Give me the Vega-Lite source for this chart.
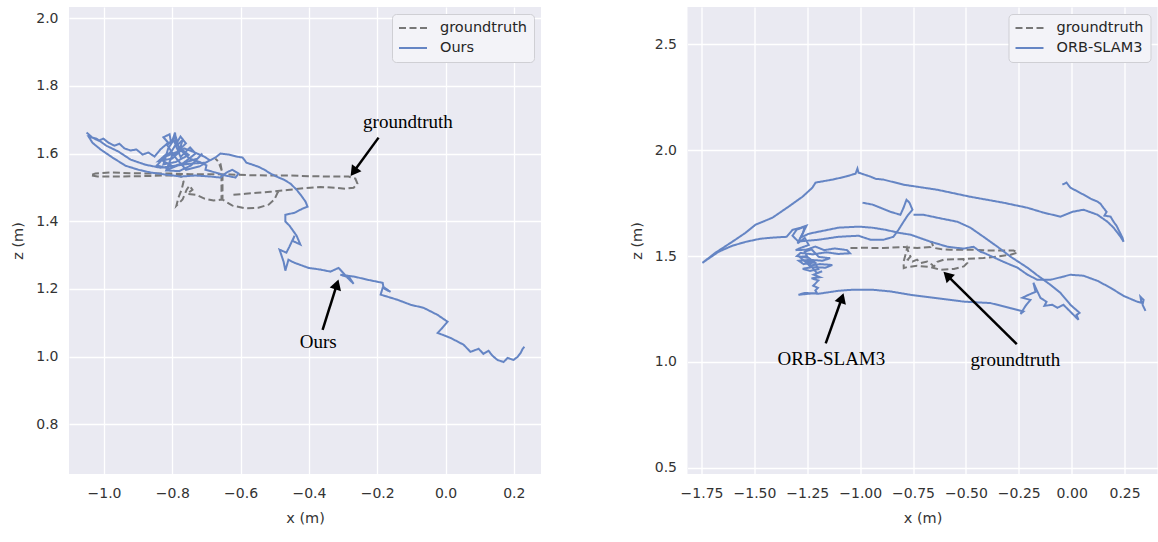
{
 "$schema": "https://vega.github.io/schema/vega-lite/v6.json",
 "background": "white",
 "padding": {"left": 10, "top": 7, "right": 0, "bottom": 0},
 "bounds": "flush",
 "spacing": 146.5,
 "datasets": {
  "left_traj": [
   {"s":"groundtruth","i":1,"x":-0.621,"y":1.478},{"s":"groundtruth","i":2,"x":-0.586,"y":1.481},{"s":"groundtruth","i":3,"x":-0.551,"y":1.484},{"s":"groundtruth","i":4,"x":-0.513,"y":1.487},{"s":"groundtruth","i":5,"x":-0.463,"y":1.492},{"s":"groundtruth","i":6,"x":-0.41,"y":1.498},{"s":"groundtruth","i":7,"x":-0.366,"y":1.501},{"s":"groundtruth","i":8,"x":-0.322,"y":1.499},{"s":"groundtruth","i":9,"x":-0.293,"y":1.496},{"s":"groundtruth","i":10,"x":-0.269,"y":1.499},{"s":"groundtruth","i":11,"x":-0.258,"y":1.511},{"s":"groundtruth","i":12,"x":-0.264,"y":1.526},{"s":"groundtruth","i":13,"x":-0.284,"y":1.532},{"s":"groundtruth","i":14,"x":-0.337,"y":1.532},{"s":"groundtruth","i":15,"x":-0.395,"y":1.533},{"s":"groundtruth","i":16,"x":-0.454,"y":1.535},{"s":"groundtruth","i":17,"x":-0.513,"y":1.535},{"s":"groundtruth","i":18,"x":-0.571,"y":1.536},{"s":"groundtruth","i":19,"x":-0.63,"y":1.538},{"s":"groundtruth","i":20,"x":-0.688,"y":1.539},{"s":"groundtruth","i":21,"x":-0.747,"y":1.539},{"s":"groundtruth","i":22,"x":-0.805,"y":1.541},{"s":"groundtruth","i":23,"x":-0.864,"y":1.541},{"s":"groundtruth","i":24,"x":-0.922,"y":1.542},{"s":"groundtruth","i":25,"x":-0.981,"y":1.544},{"s":"groundtruth","i":26,"x":-1.025,"y":1.541},{"s":"groundtruth","i":27,"x":-1.04,"y":1.536},{"s":"groundtruth","i":28,"x":-1.019,"y":1.532},{"s":"groundtruth","i":29,"x":-0.966,"y":1.532},{"s":"groundtruth","i":30,"x":-0.893,"y":1.533},{"s":"groundtruth","i":31,"x":-0.82,"y":1.535},{"s":"groundtruth","i":32,"x":-0.776,"y":1.535},{"s":"groundtruth","i":33,"x":-0.767,"y":1.517},{"s":"groundtruth","i":34,"x":-0.773,"y":1.493},{"s":"groundtruth","i":35,"x":-0.782,"y":1.47},{"s":"groundtruth","i":36,"x":-0.788,"y":1.446},{"s":"groundtruth","i":37,"x":-0.77,"y":1.464},{"s":"groundtruth","i":38,"x":-0.758,"y":1.493},{"s":"groundtruth","i":39,"x":-0.75,"y":1.505},{"s":"groundtruth","i":40,"x":-0.741,"y":1.493},{"s":"groundtruth","i":41,"x":-0.756,"y":1.481},{"s":"groundtruth","i":42,"x":-0.729,"y":1.478},{"s":"groundtruth","i":43,"x":-0.706,"y":1.467},{"s":"groundtruth","i":44,"x":-0.679,"y":1.461},{"s":"groundtruth","i":45,"x":-0.656,"y":1.464},{"s":"groundtruth","i":46,"x":-0.656,"y":1.508},{"s":"groundtruth","i":47,"x":-0.656,"y":1.552},{"s":"groundtruth","i":48,"x":-0.665,"y":1.576},{"s":"groundtruth","i":49,"x":-0.674,"y":1.585},{"s":"groundtruth","i":50,"x":-0.659,"y":1.57},{"s":"groundtruth","i":51,"x":-0.653,"y":1.538},{"s":"groundtruth","i":52,"x":-0.653,"y":1.493},{"s":"groundtruth","i":53,"x":-0.653,"y":1.464},{"s":"groundtruth","i":54,"x":-0.624,"y":1.446},{"s":"groundtruth","i":55,"x":-0.586,"y":1.438},{"s":"groundtruth","i":56,"x":-0.548,"y":1.44},{"s":"groundtruth","i":57,"x":-0.518,"y":1.449},{"s":"groundtruth","i":58,"x":-0.501,"y":1.464},{"s":"groundtruth","i":59,"x":-0.492,"y":1.484},{"s":"groundtruth","i":60,"x":-0.483,"y":1.493},
   {"s":"Ours","i":1,"x":-1.051,"y":1.662},{"s":"Ours","i":2,"x":-1.034,"y":1.647},{"s":"Ours","i":3,"x":-1.016,"y":1.638},{"s":"Ours","i":4,"x":-1.002,"y":1.644},{"s":"Ours","i":5,"x":-0.987,"y":1.632},{"s":"Ours","i":6,"x":-0.969,"y":1.623},{"s":"Ours","i":7,"x":-0.955,"y":1.629},{"s":"Ours","i":8,"x":-0.94,"y":1.615},{"s":"Ours","i":9,"x":-0.922,"y":1.609},{"s":"Ours","i":10,"x":-0.905,"y":1.612},{"s":"Ours","i":11,"x":-0.887,"y":1.597},{"s":"Ours","i":12,"x":-0.87,"y":1.603},{"s":"Ours","i":13,"x":-0.852,"y":1.591},
   {"s":"Ours","i":14,"x":-0.835,"y":1.612},{"s":"Ours","i":15,"x":-0.812,"y":1.632},{"s":"Ours","i":16,"x":-0.826,"y":1.648},{"s":"Ours","i":17,"x":-0.808,"y":1.657},{"s":"Ours","i":18,"x":-0.803,"y":1.628},{"s":"Ours","i":19,"x":-0.792,"y":1.662},{"s":"Ours","i":20,"x":-0.788,"y":1.622},{"s":"Ours","i":21,"x":-0.77,"y":1.64},{"s":"Ours","i":22,"x":-0.782,"y":1.6},{"s":"Ours","i":23,"x":-0.818,"y":1.598},{"s":"Ours","i":24,"x":-0.84,"y":1.578},{"s":"Ours","i":25,"x":-0.8,"y":1.585},{"s":"Ours","i":26,"x":-0.772,"y":1.612},{"s":"Ours","i":27,"x":-0.752,"y":1.596},{"s":"Ours","i":28,"x":-0.79,"y":1.575},{"s":"Ours","i":29,"x":-0.826,"y":1.568},{"s":"Ours","i":30,"x":-0.812,"y":1.615},{"s":"Ours","i":31,"x":-0.796,"y":1.64},{"s":"Ours","i":32,"x":-0.776,"y":1.59},{"s":"Ours","i":33,"x":-0.748,"y":1.618},{"s":"Ours","i":34,"x":-0.732,"y":1.6},{"s":"Ours","i":35,"x":-0.77,"y":1.57},{"s":"Ours","i":36,"x":-0.808,"y":1.555},{"s":"Ours","i":37,"x":-0.845,"y":1.565},{"s":"Ours","i":38,"x":-0.822,"y":1.59},{"s":"Ours","i":39,"x":-0.786,"y":1.605},{"s":"Ours","i":40,"x":-0.76,"y":1.63},{"s":"Ours","i":41,"x":-0.776,"y":1.65},{"s":"Ours","i":42,"x":-0.8,"y":1.61},{"s":"Ours","i":43,"x":-0.83,"y":1.58},{"s":"Ours","i":44,"x":-0.798,"y":1.562},{"s":"Ours","i":45,"x":-0.758,"y":1.575},{"s":"Ours","i":46,"x":-0.726,"y":1.585},{"s":"Ours","i":47,"x":-0.712,"y":1.6},{"s":"Ours","i":48,"x":-0.745,"y":1.565},{"s":"Ours","i":49,"x":-0.78,"y":1.548},{"s":"Ours","i":50,"x":-0.818,"y":1.55},{"s":"Ours","i":51,"x":-0.8,"y":1.595},{"s":"Ours","i":52,"x":-0.765,"y":1.615},{"s":"Ours","i":53,"x":-0.738,"y":1.605},{"s":"Ours","i":54,"x":-0.705,"y":1.59},{"s":"Ours","i":55,"x":-0.69,"y":1.58},{"s":"Ours","i":56,"x":-0.72,"y":1.562},{"s":"Ours","i":57,"x":-0.76,"y":1.552},{"s":"Ours","i":58,"x":-0.792,"y":1.59},{"s":"Ours","i":59,"x":-0.815,"y":1.625},{"s":"Ours","i":60,"x":-0.79,"y":1.65},{"s":"Ours","i":61,"x":-0.78,"y":1.615},{"s":"Ours","i":62,"x":-0.75,"y":1.585},{"s":"Ours","i":63,"x":-0.72,"y":1.575},{"s":"Ours","i":64,"x":-0.7,"y":1.565},{"s":"Ours","i":65,"x":-0.703,"y":1.552},
   {"s":"Ours","i":80,"x":-0.674,"y":1.544},{"s":"Ours","i":81,"x":-0.644,"y":1.535},{"s":"Ours","i":82,"x":-0.615,"y":1.529},{"s":"Ours","i":83,"x":-0.606,"y":1.541},{"s":"Ours","i":84,"x":-0.624,"y":1.552},{"s":"Ours","i":85,"x":-0.641,"y":1.544},{"s":"Ours","i":86,"x":-0.659,"y":1.529},{"s":"Ours","i":87,"x":-0.688,"y":1.532},{"s":"Ours","i":88,"x":-0.732,"y":1.535},{"s":"Ours","i":89,"x":-0.776,"y":1.532},{"s":"Ours","i":90,"x":-0.82,"y":1.538},{"s":"Ours","i":91,"x":-0.864,"y":1.544},{"s":"Ours","i":92,"x":-0.899,"y":1.552},{"s":"Ours","i":93,"x":-0.937,"y":1.564},{"s":"Ours","i":94,"x":-0.975,"y":1.588},{"s":"Ours","i":95,"x":-1.01,"y":1.612},{"s":"Ours","i":96,"x":-1.034,"y":1.632},{"s":"Ours","i":97,"x":-1.045,"y":1.65},{"s":"Ours","i":98,"x":-1.022,"y":1.644},{"s":"Ours","i":99,"x":-0.993,"y":1.623},{"s":"Ours","i":100,"x":-0.958,"y":1.606},{"s":"Ours","i":101,"x":-0.922,"y":1.582},{"s":"Ours","i":102,"x":-0.879,"y":1.567},{"s":"Ours","i":103,"x":-0.835,"y":1.558},{"s":"Ours","i":104,"x":-0.791,"y":1.564},{"s":"Ours","i":105,"x":-0.747,"y":1.57},{"s":"Ours","i":106,"x":-0.703,"y":1.573},{"s":"Ours","i":107,"x":-0.674,"y":1.588},{"s":"Ours","i":108,"x":-0.659,"y":1.6},{"s":"Ours","i":109,"x":-0.635,"y":1.597},{"s":"Ours","i":110,"x":-0.612,"y":1.591},{"s":"Ours","i":111,"x":-0.594,"y":1.588},{"s":"Ours","i":112,"x":-0.583,"y":1.573},{"s":"Ours","i":113,"x":-0.565,"y":1.567},{"s":"Ours","i":114,"x":-0.548,"y":1.561},{"s":"Ours","i":115,"x":-0.53,"y":1.552},{"s":"Ours","i":116,"x":-0.513,"y":1.541},{"s":"Ours","i":117,"x":-0.495,"y":1.532},{"s":"Ours","i":118,"x":-0.474,"y":1.523},{"s":"Ours","i":119,"x":-0.454,"y":1.511},{"s":"Ours","i":120,"x":-0.436,"y":1.493},{"s":"Ours","i":121,"x":-0.422,"y":1.475},{"s":"Ours","i":122,"x":-0.41,"y":1.458},{"s":"Ours","i":123,"x":-0.404,"y":1.443},{"s":"Ours","i":124,"x":-0.419,"y":1.437},{"s":"Ours","i":125,"x":-0.442,"y":1.425},{"s":"Ours","i":126,"x":-0.469,"y":1.419},{"s":"Ours","i":127,"x":-0.469,"y":1.399},{"s":"Ours","i":128,"x":-0.457,"y":1.387},{"s":"Ours","i":129,"x":-0.436,"y":1.357},{"s":"Ours","i":130,"x":-0.425,"y":1.331},{"s":"Ours","i":131,"x":-0.448,"y":1.342},{"s":"Ours","i":132,"x":-0.442,"y":1.357},{"s":"Ours","i":133,"x":-0.457,"y":1.325},{"s":"Ours","i":134,"x":-0.466,"y":1.307},{"s":"Ours","i":135,"x":-0.486,"y":1.316},{"s":"Ours","i":136,"x":-0.474,"y":1.28},{"s":"Ours","i":137,"x":-0.469,"y":1.254},{"s":"Ours","i":138,"x":-0.46,"y":1.286},{"s":"Ours","i":139,"x":-0.442,"y":1.277},{"s":"Ours","i":140,"x":-0.401,"y":1.262},{"s":"Ours","i":141,"x":-0.366,"y":1.257},{"s":"Ours","i":142,"x":-0.337,"y":1.251},{"s":"Ours","i":143,"x":-0.313,"y":1.262},{"s":"Ours","i":144,"x":-0.287,"y":1.233},{"s":"Ours","i":145,"x":-0.269,"y":1.215},{"s":"Ours","i":146,"x":-0.281,"y":1.233},{"s":"Ours","i":147,"x":-0.308,"y":1.242},{"s":"Ours","i":148,"x":-0.266,"y":1.236},{"s":"Ours","i":149,"x":-0.228,"y":1.227},{"s":"Ours","i":150,"x":-0.199,"y":1.221},{"s":"Ours","i":151,"x":-0.184,"y":1.218},{"s":"Ours","i":152,"x":-0.182,"y":1.206},{"s":"Ours","i":153,"x":-0.161,"y":1.191},{"s":"Ours","i":154,"x":-0.184,"y":1.203},{"s":"Ours","i":155,"x":-0.19,"y":1.183},{"s":"Ours","i":156,"x":-0.141,"y":1.168},{"s":"Ours","i":157,"x":-0.102,"y":1.153},{"s":"Ours","i":158,"x":-0.064,"y":1.144},{"s":"Ours","i":159,"x":-0.023,"y":1.123},{"s":"Ours","i":160,"x":0.006,"y":1.103},{"s":"Ours","i":161,"x":-0.009,"y":1.085},{"s":"Ours","i":162,"x":-0.023,"y":1.07},{"s":"Ours","i":163,"x":0.015,"y":1.055},{"s":"Ours","i":164,"x":0.053,"y":1.035},{"s":"Ours","i":165,"x":0.073,"y":1.014},{"s":"Ours","i":166,"x":0.097,"y":1.023},{"s":"Ours","i":167,"x":0.111,"y":1.008},{"s":"Ours","i":168,"x":0.126,"y":1.017},{"s":"Ours","i":169,"x":0.138,"y":1.002},{"s":"Ours","i":170,"x":0.152,"y":0.99},{"s":"Ours","i":171,"x":0.17,"y":0.984},{"s":"Ours","i":172,"x":0.182,"y":0.996},{"s":"Ours","i":173,"x":0.199,"y":0.99},{"s":"Ours","i":174,"x":0.211,"y":0.999},{"s":"Ours","i":175,"x":0.22,"y":1.011},{"s":"Ours","i":176,"x":0.226,"y":1.023},{"s":"Ours","i":177,"x":0.231,"y":1.029}
  ],
  "left_text": [
   {"label":"groundtruth","x":-0.110,"y":1.694},
   {"label":"Ours","x":-0.373,"y":1.044}
  ],
  "left_arrow": [
   {"x":-0.196,"y":1.647,"x2":-0.269,"y2":1.546,"angle":216.4},
   {"x":-0.360,"y":1.079,"x2":-0.318,"y2":1.213,"angle":17.7}
  ],
  "right_traj": [
   {"s":"groundtruth","g":"G","i":1,"x":-1.046,"y":1.538},{"s":"groundtruth","g":"G","i":2,"x":-0.975,"y":1.539},{"s":"groundtruth","g":"G","i":3,"x":-0.89,"y":1.538},{"s":"groundtruth","g":"G","i":4,"x":-0.795,"y":1.543},{"s":"groundtruth","g":"G","i":5,"x":-0.731,"y":1.538},{"s":"groundtruth","g":"G","i":6,"x":-0.668,"y":1.543},{"s":"groundtruth","g":"G","i":7,"x":-0.663,"y":1.57},{"s":"groundtruth","g":"G","i":8,"x":-0.653,"y":1.539},{"s":"groundtruth","g":"G","i":9,"x":-0.62,"y":1.533},{"s":"groundtruth","g":"G","i":10,"x":-0.573,"y":1.53},{"s":"groundtruth","g":"G","i":11,"x":-0.479,"y":1.53},{"s":"groundtruth","g":"G","i":12,"x":-0.384,"y":1.526},{"s":"groundtruth","g":"G","i":13,"x":-0.275,"y":1.526},{"s":"groundtruth","g":"G","i":14,"x":-0.256,"y":1.517},{"s":"groundtruth","g":"G","i":15,"x":-0.289,"y":1.506},{"s":"groundtruth","g":"G","i":16,"x":-0.351,"y":1.498},{"s":"groundtruth","g":"G","i":17,"x":-0.417,"y":1.491},{"s":"groundtruth","g":"G","i":18,"x":-0.512,"y":1.486},{"s":"groundtruth","g":"G","i":19,"x":-0.606,"y":1.483},{"s":"groundtruth","g":"G","i":20,"x":-0.635,"y":1.473},{"s":"groundtruth","g":"G","i":21,"x":-0.653,"y":1.448},{"s":"groundtruth","g":"G","i":22,"x":-0.66,"y":1.459},{"s":"groundtruth","g":"G","i":23,"x":-0.683,"y":1.474},{"s":"groundtruth","g":"G","i":24,"x":-0.715,"y":1.467},{"s":"groundtruth","g":"G","i":25,"x":-0.731,"y":1.483},{"s":"groundtruth","g":"G","i":26,"x":-0.754,"y":1.474},{"s":"groundtruth","g":"G","i":27,"x":-0.775,"y":1.483},{"s":"groundtruth","g":"G","i":28,"x":-0.762,"y":1.498},{"s":"groundtruth","g":"G","i":29,"x":-0.77,"y":1.514},{"s":"groundtruth","g":"G","i":30,"x":-0.778,"y":1.538},{"s":"groundtruth","g":"G","i":31,"x":-0.786,"y":1.506},{"s":"groundtruth","g":"G","i":32,"x":-0.795,"y":1.473},{"s":"groundtruth","g":"G","i":33,"x":-0.794,"y":1.443},{"s":"groundtruth","g":"G","i":34,"x":-0.778,"y":1.448},{"s":"groundtruth","g":"G","i":35,"x":-0.731,"y":1.454},{"s":"groundtruth","g":"G","i":36,"x":-0.668,"y":1.448},{"s":"groundtruth","g":"G","i":37,"x":-0.62,"y":1.435},{"s":"groundtruth","g":"G","i":38,"x":-0.557,"y":1.439},{"s":"groundtruth","g":"G","i":39,"x":-0.51,"y":1.451},{"s":"groundtruth","g":"G","i":40,"x":-0.494,"y":1.467},{"s":"groundtruth","g":"G","i":41,"x":-0.512,"y":1.483},
   {"s":"ORB-SLAM3","g":"A","i":1,"x":-0.044,"y":1.837},{"s":"ORB-SLAM3","g":"A","i":2,"x":-0.025,"y":1.847},{"s":"ORB-SLAM3","g":"A","i":3,"x":-0.006,"y":1.823},{"s":"ORB-SLAM3","g":"A","i":4,"x":0.056,"y":1.79},{"s":"ORB-SLAM3","g":"A","i":5,"x":0.089,"y":1.771},{"s":"ORB-SLAM3","g":"A","i":6,"x":0.122,"y":1.757},{"s":"ORB-SLAM3","g":"A","i":7,"x":0.136,"y":1.747},{"s":"ORB-SLAM3","g":"A","i":8,"x":0.15,"y":1.728},{"s":"ORB-SLAM3","g":"A","i":9,"x":0.165,"y":1.709},{"s":"ORB-SLAM3","g":"A","i":10,"x":0.155,"y":1.691},{"s":"ORB-SLAM3","g":"A","i":11,"x":0.184,"y":1.686},{"s":"ORB-SLAM3","g":"A","i":12,"x":0.198,"y":1.662},{"s":"ORB-SLAM3","g":"A","i":13,"x":0.212,"y":1.643},{"s":"ORB-SLAM3","g":"A","i":14,"x":0.226,"y":1.615},{"s":"ORB-SLAM3","g":"A","i":15,"x":0.24,"y":1.587},{"s":"ORB-SLAM3","g":"A","i":16,"x":0.245,"y":1.568},{"s":"ORB-SLAM3","g":"A","i":17,"x":0.231,"y":1.591},{"s":"ORB-SLAM3","g":"A","i":18,"x":0.198,"y":1.634},{"s":"ORB-SLAM3","g":"A","i":19,"x":0.169,"y":1.662},{"s":"ORB-SLAM3","g":"A","i":20,"x":0.122,"y":1.695},{"s":"ORB-SLAM3","g":"A","i":21,"x":0.056,"y":1.719},{"s":"ORB-SLAM3","g":"A","i":22,"x":0.004,"y":1.709},{"s":"ORB-SLAM3","g":"A","i":23,"x":-0.053,"y":1.686},{"s":"ORB-SLAM3","g":"A","i":24,"x":-0.133,"y":1.705},{"s":"ORB-SLAM3","g":"A","i":25,"x":-0.209,"y":1.728},{"s":"ORB-SLAM3","g":"A","i":26,"x":-0.323,"y":1.752},{"s":"ORB-SLAM3","g":"A","i":27,"x":-0.479,"y":1.78},{"s":"ORB-SLAM3","g":"A","i":28,"x":-0.635,"y":1.813},{"s":"ORB-SLAM3","g":"A","i":29,"x":-0.795,"y":1.837},{"s":"ORB-SLAM3","g":"A","i":30,"x":-0.89,"y":1.861},{"s":"ORB-SLAM3","g":"A","i":31,"x":-0.928,"y":1.865},{"s":"ORB-SLAM3","g":"A","i":32,"x":-0.951,"y":1.875},{"s":"ORB-SLAM3","g":"A","i":33,"x":-1.008,"y":1.894},{"s":"ORB-SLAM3","g":"A","i":34,"x":-1.013,"y":1.913},{"s":"ORB-SLAM3","g":"A","i":35,"x":-1.022,"y":1.889},{"s":"ORB-SLAM3","g":"A","i":36,"x":-1.07,"y":1.875},{"s":"ORB-SLAM3","g":"A","i":37,"x":-1.131,"y":1.861},{"s":"ORB-SLAM3","g":"A","i":38,"x":-1.211,"y":1.847},{"s":"ORB-SLAM3","g":"A","i":39,"x":-1.226,"y":1.823},{"s":"ORB-SLAM3","g":"A","i":40,"x":-1.273,"y":1.78},{"s":"ORB-SLAM3","g":"A","i":41,"x":-1.339,"y":1.733},{"s":"ORB-SLAM3","g":"A","i":42,"x":-1.415,"y":1.681},{"s":"ORB-SLAM3","g":"A","i":43,"x":-1.495,"y":1.648},{"s":"ORB-SLAM3","g":"A","i":44,"x":-1.542,"y":1.61},{"s":"ORB-SLAM3","g":"A","i":45,"x":-1.604,"y":1.568},{"s":"ORB-SLAM3","g":"A","i":46,"x":-1.684,"y":1.516},{"s":"ORB-SLAM3","g":"A","i":47,"x":-1.746,"y":1.468},{"s":"ORB-SLAM3","g":"A","i":48,"x":-1.67,"y":1.52},{"s":"ORB-SLAM3","g":"A","i":49,"x":-1.604,"y":1.549},{"s":"ORB-SLAM3","g":"A","i":50,"x":-1.538,"y":1.568},{"s":"ORB-SLAM3","g":"A","i":51,"x":-1.471,"y":1.582},{"s":"ORB-SLAM3","g":"A","i":52,"x":-1.415,"y":1.587},{"s":"ORB-SLAM3","g":"A","i":53,"x":-1.348,"y":1.591},{"s":"ORB-SLAM3","g":"A","i":54,"x":-1.32,"y":1.624},{"s":"ORB-SLAM3","g":"A","i":55,"x":-1.282,"y":1.634},{"s":"ORB-SLAM3","g":"A","i":56,"x":-1.254,"y":1.643},{"s":"ORB-SLAM3","g":"A","i":57,"x":-1.282,"y":1.587},{"s":"ORB-SLAM3","g":"A","i":58,"x":-1.244,"y":1.605},{"s":"ORB-SLAM3","g":"A","i":59,"x":-1.197,"y":1.615},{"s":"ORB-SLAM3","g":"A","i":60,"x":-1.103,"y":1.634},{"s":"ORB-SLAM3","g":"A","i":61,"x":-1.008,"y":1.639},{"s":"ORB-SLAM3","g":"A","i":62,"x":-0.942,"y":1.634},{"s":"ORB-SLAM3","g":"A","i":63,"x":-0.88,"y":1.624},{"s":"ORB-SLAM3","g":"A","i":64,"x":-0.819,"y":1.61},{"s":"ORB-SLAM3","g":"A","i":65,"x":-0.762,"y":1.601},{"s":"ORB-SLAM3","g":"A","i":66,"x":-0.668,"y":1.568},{"s":"ORB-SLAM3","g":"A","i":67,"x":-0.587,"y":1.544},{"s":"ORB-SLAM3","g":"A","i":68,"x":-0.512,"y":1.535},{"s":"ORB-SLAM3","g":"A","i":69,"x":-0.464,"y":1.544},{"s":"ORB-SLAM3","g":"A","i":70,"x":-0.431,"y":1.52},{"s":"ORB-SLAM3","g":"A","i":71,"x":-0.417,"y":1.516},{"s":"ORB-SLAM3","g":"A","i":72,"x":-0.323,"y":1.473},{"s":"ORB-SLAM3","g":"A","i":73,"x":-0.256,"y":1.445},{"s":"ORB-SLAM3","g":"A","i":74,"x":-0.209,"y":1.412},{"s":"ORB-SLAM3","g":"A","i":75,"x":-0.162,"y":1.388},{"s":"ORB-SLAM3","g":"A","i":76,"x":-0.1,"y":1.388},{"s":"ORB-SLAM3","g":"A","i":77,"x":-0.044,"y":1.402},{"s":"ORB-SLAM3","g":"A","i":78,"x":-0.006,"y":1.412},{"s":"ORB-SLAM3","g":"A","i":79,"x":0.056,"y":1.407},{"s":"ORB-SLAM3","g":"A","i":80,"x":0.122,"y":1.383},{"s":"ORB-SLAM3","g":"A","i":81,"x":0.184,"y":1.35},{"s":"ORB-SLAM3","g":"A","i":82,"x":0.245,"y":1.312},{"s":"ORB-SLAM3","g":"A","i":83,"x":0.311,"y":1.284},{"s":"ORB-SLAM3","g":"A","i":84,"x":0.33,"y":1.279},{"s":"ORB-SLAM3","g":"A","i":85,"x":0.325,"y":1.308},{"s":"ORB-SLAM3","g":"A","i":86,"x":0.34,"y":1.293},{"s":"ORB-SLAM3","g":"A","i":87,"x":0.335,"y":1.27},{"s":"ORB-SLAM3","g":"A","i":88,"x":0.349,"y":1.241},
   {"s":"ORB-SLAM3","g":"B","i":1,"x":-0.989,"y":1.752},{"s":"ORB-SLAM3","g":"B","i":2,"x":-0.942,"y":1.743},{"s":"ORB-SLAM3","g":"B","i":3,"x":-0.904,"y":1.728},{"s":"ORB-SLAM3","g":"B","i":4,"x":-0.857,"y":1.709},{"s":"ORB-SLAM3","g":"B","i":5,"x":-0.81,"y":1.695},{"s":"ORB-SLAM3","g":"B","i":6,"x":-0.795,"y":1.728},{"s":"ORB-SLAM3","g":"B","i":7,"x":-0.781,"y":1.766},{"s":"ORB-SLAM3","g":"B","i":8,"x":-0.767,"y":1.752},{"s":"ORB-SLAM3","g":"B","i":9,"x":-0.753,"y":1.719},{"s":"ORB-SLAM3","g":"B","i":10,"x":-0.776,"y":1.691},{"s":"ORB-SLAM3","g":"B","i":11,"x":-0.795,"y":1.662},{"s":"ORB-SLAM3","g":"B","i":12,"x":-0.819,"y":1.624},{"s":"ORB-SLAM3","g":"B","i":13,"x":-0.843,"y":1.591},{"s":"ORB-SLAM3","g":"B","i":14,"x":-0.89,"y":1.577},{"s":"ORB-SLAM3","g":"B","i":15,"x":-0.951,"y":1.577},{"s":"ORB-SLAM3","g":"B","i":16,"x":-1.008,"y":1.596},{"s":"ORB-SLAM3","g":"B","i":17,"x":-1.103,"y":1.591},{"s":"ORB-SLAM3","g":"B","i":18,"x":-1.197,"y":1.577},{"s":"ORB-SLAM3","g":"B","i":19,"x":-1.259,"y":1.572},
   {"s":"ORB-SLAM3","g":"B","i":20,"x":-1.292,"y":1.568},{"s":"ORB-SLAM3","g":"B","i":21,"x":-1.32,"y":1.596},{"s":"ORB-SLAM3","g":"B","i":22,"x":-1.301,"y":1.624},{"s":"ORB-SLAM3","g":"B","i":23,"x":-1.263,"y":1.639},{"s":"ORB-SLAM3","g":"B","i":24,"x":-1.27,"y":1.61},{"s":"ORB-SLAM3","g":"B","i":25,"x":-1.296,"y":1.56},{"s":"ORB-SLAM3","g":"B","i":26,"x":-1.262,"y":1.585},{"s":"ORB-SLAM3","g":"B","i":27,"x":-1.243,"y":1.552},{"s":"ORB-SLAM3","g":"B","i":28,"x":-1.278,"y":1.54},{"s":"ORB-SLAM3","g":"B","i":29,"x":-1.305,"y":1.528},{"s":"ORB-SLAM3","g":"B","i":30,"x":-1.255,"y":1.53},{"s":"ORB-SLAM3","g":"B","i":31,"x":-1.212,"y":1.545},{"s":"ORB-SLAM3","g":"B","i":32,"x":-1.17,"y":1.528},{"s":"ORB-SLAM3","g":"B","i":33,"x":-1.12,"y":1.536},{"s":"ORB-SLAM3","g":"B","i":34,"x":-1.062,"y":1.528},{"s":"ORB-SLAM3","g":"B","i":35,"x":-1.048,"y":1.513},{"s":"ORB-SLAM3","g":"B","i":36,"x":-1.105,"y":1.51},{"s":"ORB-SLAM3","g":"B","i":37,"x":-1.16,"y":1.518},{"s":"ORB-SLAM3","g":"B","i":38,"x":-1.224,"y":1.508},{"s":"ORB-SLAM3","g":"B","i":39,"x":-1.282,"y":1.515},{"s":"ORB-SLAM3","g":"B","i":40,"x":-1.299,"y":1.5},{"s":"ORB-SLAM3","g":"B","i":41,"x":-1.248,"y":1.492},{"s":"ORB-SLAM3","g":"B","i":42,"x":-1.262,"y":1.52},{"s":"ORB-SLAM3","g":"B","i":43,"x":-1.23,"y":1.532},{"s":"ORB-SLAM3","g":"B","i":44,"x":-1.196,"y":1.496},{"s":"ORB-SLAM3","g":"B","i":45,"x":-1.142,"y":1.49},{"s":"ORB-SLAM3","g":"B","i":46,"x":-1.178,"y":1.478},{"s":"ORB-SLAM3","g":"B","i":47,"x":-1.238,"y":1.482},{"s":"ORB-SLAM3","g":"B","i":48,"x":-1.29,"y":1.478},{"s":"ORB-SLAM3","g":"B","i":49,"x":-1.268,"y":1.462},{"s":"ORB-SLAM3","g":"B","i":50,"x":-1.215,"y":1.47},{"s":"ORB-SLAM3","g":"B","i":51,"x":-1.255,"y":1.5},{"s":"ORB-SLAM3","g":"B","i":52,"x":-1.285,"y":1.495},{"s":"ORB-SLAM3","g":"B","i":53,"x":-1.24,"y":1.455},{"s":"ORB-SLAM3","g":"B","i":54,"x":-1.19,"y":1.462},{"s":"ORB-SLAM3","g":"B","i":55,"x":-1.132,"y":1.458},{"s":"ORB-SLAM3","g":"B","i":56,"x":-1.165,"y":1.445},{"s":"ORB-SLAM3","g":"B","i":57,"x":-1.225,"y":1.448},{"s":"ORB-SLAM3","g":"B","i":58,"x":-1.272,"y":1.44},{"s":"ORB-SLAM3","g":"B","i":59,"x":-1.238,"y":1.43},{"s":"ORB-SLAM3","g":"B","i":60,"x":-1.198,"y":1.438},{"s":"ORB-SLAM3","g":"B","i":61,"x":-1.215,"y":1.47},{"s":"ORB-SLAM3","g":"B","i":62,"x":-1.25,"y":1.475},{"s":"ORB-SLAM3","g":"B","i":63,"x":-1.205,"y":1.42},{"s":"ORB-SLAM3","g":"B","i":64,"x":-1.18,"y":1.428},{"s":"ORB-SLAM3","g":"B","i":65,"x":-1.22,"y":1.412},{"s":"ORB-SLAM3","g":"B","i":66,"x":-1.19,"y":1.4},{"s":"ORB-SLAM3","g":"B","i":67,"x":-1.23,"y":1.395},{"s":"ORB-SLAM3","g":"B","i":68,"x":-1.198,"y":1.385},{"s":"ORB-SLAM3","g":"B","i":69,"x":-1.21,"y":1.372},{"s":"ORB-SLAM3","g":"B","i":70,"x":-1.222,"y":1.36},{"s":"ORB-SLAM3","g":"B","i":71,"x":-1.2,"y":1.35},{"s":"ORB-SLAM3","g":"B","i":72,"x":-1.212,"y":1.338},{"s":"ORB-SLAM3","g":"B","i":73,"x":-1.205,"y":1.326},
   {"s":"ORB-SLAM3","g":"B","i":75,"x":-1.244,"y":1.322},{"s":"ORB-SLAM3","g":"B","i":76,"x":-1.292,"y":1.317},{"s":"ORB-SLAM3","g":"B","i":77,"x":-1.263,"y":1.326},{"s":"ORB-SLAM3","g":"B","i":78,"x":-1.197,"y":1.322},{"s":"ORB-SLAM3","g":"B","i":79,"x":-1.103,"y":1.336},{"s":"ORB-SLAM3","g":"B","i":80,"x":-1.037,"y":1.341},{"s":"ORB-SLAM3","g":"B","i":81,"x":-0.942,"y":1.341},{"s":"ORB-SLAM3","g":"B","i":82,"x":-0.857,"y":1.333},{"s":"ORB-SLAM3","g":"B","i":83,"x":-0.762,"y":1.317},{"s":"ORB-SLAM3","g":"B","i":84,"x":-0.635,"y":1.301},{"s":"ORB-SLAM3","g":"B","i":85,"x":-0.512,"y":1.285},{"s":"ORB-SLAM3","g":"B","i":86,"x":-0.384,"y":1.278},{"s":"ORB-SLAM3","g":"B","i":87,"x":-0.289,"y":1.254},{"s":"ORB-SLAM3","g":"B","i":88,"x":-0.228,"y":1.238},{"s":"ORB-SLAM3","g":"B","i":89,"x":-0.242,"y":1.227},{"s":"ORB-SLAM3","g":"B","i":90,"x":-0.218,"y":1.265},{"s":"ORB-SLAM3","g":"B","i":91,"x":-0.195,"y":1.293},{"s":"ORB-SLAM3","g":"B","i":92,"x":-0.233,"y":1.303},{"s":"ORB-SLAM3","g":"B","i":93,"x":-0.204,"y":1.317},{"s":"ORB-SLAM3","g":"B","i":94,"x":-0.171,"y":1.331},{"s":"ORB-SLAM3","g":"B","i":95,"x":-0.181,"y":1.374},{"s":"ORB-SLAM3","g":"B","i":96,"x":-0.166,"y":1.341},{"s":"ORB-SLAM3","g":"B","i":97,"x":-0.148,"y":1.303},{"s":"ORB-SLAM3","g":"B","i":98,"x":-0.119,"y":1.284},{"s":"ORB-SLAM3","g":"B","i":99,"x":-0.129,"y":1.265},{"s":"ORB-SLAM3","g":"B","i":100,"x":-0.091,"y":1.27},{"s":"ORB-SLAM3","g":"B","i":101,"x":-0.067,"y":1.256},{"s":"ORB-SLAM3","g":"B","i":102,"x":-0.039,"y":1.27},{"s":"ORB-SLAM3","g":"B","i":103,"x":-0.006,"y":1.237},{"s":"ORB-SLAM3","g":"B","i":104,"x":0.032,"y":1.199},{"s":"ORB-SLAM3","g":"B","i":105,"x":0.023,"y":1.222},{"s":"ORB-SLAM3","g":"B","i":106,"x":0.037,"y":1.232},{"s":"ORB-SLAM3","g":"B","i":107,"x":-0.006,"y":1.27},{"s":"ORB-SLAM3","g":"B","i":108,"x":-0.053,"y":1.326},{"s":"ORB-SLAM3","g":"B","i":109,"x":-0.1,"y":1.364},{"s":"ORB-SLAM3","g":"B","i":110,"x":-0.166,"y":1.412},{"s":"ORB-SLAM3","g":"B","i":111,"x":-0.209,"y":1.445},{"s":"ORB-SLAM3","g":"B","i":112,"x":-0.289,"y":1.497},{"s":"ORB-SLAM3","g":"B","i":113,"x":-0.351,"y":1.544},{"s":"ORB-SLAM3","g":"B","i":114,"x":-0.417,"y":1.591},{"s":"ORB-SLAM3","g":"B","i":115,"x":-0.479,"y":1.634},{"s":"ORB-SLAM3","g":"B","i":116,"x":-0.54,"y":1.662},{"s":"ORB-SLAM3","g":"B","i":117,"x":-0.635,"y":1.681},{"s":"ORB-SLAM3","g":"B","i":118,"x":-0.701,"y":1.695},{"s":"ORB-SLAM3","g":"B","i":119,"x":-0.748,"y":1.695}
  ],
  "right_text": [
   {"label":"ORB-SLAM3","x":-1.136,"y":1.014},
   {"label":"groundtruth","x":-0.266,"y":1.011}
  ],
  "right_arrow": [
   {"x":-1.163,"y":1.088,"x2":-1.0865,"y2":1.302,"angle":18.4},
   {"x":-0.2596,"y":1.084,"x2":-0.589,"y2":1.409,"angle":314.6}
  ]
 },
 "hconcat": [
  {
   "width": 472,
   "height": 467,
   "layer": [
    {
     "data": {"name": "left_traj"},
     "mark": {"type": "line", "strokeWidth": 2, "clip": true},
     "encoding": {
      "x": {"field": "x", "type": "quantitative", "scale": {"domain": [-1.1025, 0.2796], "nice": false, "zero": false}, "axis": {"title": "x (m)", "values": [-1.0, -0.8, -0.6, -0.4, -0.2, 0.0, 0.2], "format": ".1f"}},
      "y": {"field": "y", "type": "quantitative", "scale": {"domain": [0.653, 2.033], "nice": false, "zero": false}, "axis": {"title": "z (m)", "values": [0.8, 1.0, 1.2, 1.4, 1.6, 1.8, 2.0], "format": ".1f"}},
      "order": {"field": "i", "type": "quantitative"},
      "color": {"field": "s", "type": "nominal", "scale": {"domain": ["groundtruth", "Ours"], "range": ["#777777", "#6585c4"]}, "legend": {"title": null}},
      "strokeDash": {"field": "s", "type": "nominal", "scale": {"domain": ["groundtruth", "Ours"], "range": [[7, 3.5], [1, 0]]}, "legend": {"title": null}}
     }
    },
    {
     "data": {"name": "left_arrow"},
     "mark": {"type": "rule", "color": "black", "strokeWidth": 2.5},
     "encoding": {"x": {"field": "x", "type": "quantitative"}, "y": {"field": "y", "type": "quantitative"}, "x2": {"field": "x2"}, "y2": {"field": "y2"}}
    },
    {
     "data": {"name": "left_arrow"},
     "mark": {"type": "point", "shape": "triangle-up", "filled": true, "color": "black", "size": 140, "opacity": 1},
     "encoding": {"x": {"field": "x2", "type": "quantitative"}, "y": {"field": "y2", "type": "quantitative"}, "angle": {"field": "angle", "type": "quantitative", "scale": null}}
    },
    {
     "data": {"name": "left_text"},
     "mark": {"type": "text", "font": "Liberation Serif", "fontSize": 19, "color": "black", "align": "center", "baseline": "middle"},
     "encoding": {"x": {"field": "x", "type": "quantitative"}, "y": {"field": "y", "type": "quantitative"}, "text": {"field": "label"}}
    }
   ]
  },
  {
   "width": 470,
   "height": 467,
   "layer": [
    {
     "data": {"name": "right_traj"},
     "mark": {"type": "line", "strokeWidth": 2, "clip": true},
     "encoding": {
      "x": {"field": "x", "type": "quantitative", "scale": {"domain": [-1.8165, 0.4057], "nice": false, "zero": false}, "axis": {"title": "x (m)", "values": [-1.75, -1.5, -1.25, -1.0, -0.75, -0.5, -0.25, 0.0, 0.25], "format": ".2f"}},
      "y": {"field": "y", "type": "quantitative", "scale": {"domain": [0.471, 2.676], "nice": false, "zero": false}, "axis": {"title": "z (m)", "values": [0.5, 1.0, 1.5, 2.0, 2.5], "format": ".1f"}},
      "order": {"field": "i", "type": "quantitative"},
      "detail": {"field": "g", "type": "nominal"},
      "color": {"field": "s", "type": "nominal", "scale": {"domain": ["groundtruth", "ORB-SLAM3"], "range": ["#777777", "#6585c4"]}, "legend": {"title": null}},
      "strokeDash": {"field": "s", "type": "nominal", "scale": {"domain": ["groundtruth", "ORB-SLAM3"], "range": [[7, 3.5], [1, 0]]}, "legend": {"title": null}}
     }
    },
    {
     "data": {"name": "right_arrow"},
     "mark": {"type": "rule", "color": "black", "strokeWidth": 2.5},
     "encoding": {"x": {"field": "x", "type": "quantitative"}, "y": {"field": "y", "type": "quantitative"}, "x2": {"field": "x2"}, "y2": {"field": "y2"}}
    },
    {
     "data": {"name": "right_arrow"},
     "mark": {"type": "point", "shape": "triangle-up", "filled": true, "color": "black", "size": 140, "opacity": 1},
     "encoding": {"x": {"field": "x2", "type": "quantitative"}, "y": {"field": "y2", "type": "quantitative"}, "angle": {"field": "angle", "type": "quantitative", "scale": null}}
    },
    {
     "data": {"name": "right_text"},
     "mark": {"type": "text", "font": "Liberation Serif", "fontSize": 19, "color": "black", "align": "center", "baseline": "middle"},
     "encoding": {"x": {"field": "x", "type": "quantitative"}, "y": {"field": "y", "type": "quantitative"}, "text": {"field": "label"}}
    }
   ]
  }
 ],
 "resolve": {
  "scale": {"x": "independent", "y": "independent", "color": "independent", "strokeDash": "independent"},
  "legend": {"color": "independent", "strokeDash": "independent"}
 },
 "config": {
  "view": {"fill": "#EAEAF2", "stroke": null},
  "font": "DejaVu Sans",
  "axis": {"grid": true, "gridColor": "#ffffff", "gridWidth": 1.3, "domain": false, "ticks": false, "tickSize": 0, "labelFont": "DejaVu Sans", "labelFontSize": 14, "labelColor": "#333333", "titleFont": "DejaVu Sans", "titleFontSize": 14.5, "titleFontWeight": "normal", "titleColor": "#333333"},
  "axisX": {"labelPadding": 12, "titlePadding": 11},
  "axisY": {"labelPadding": 11, "titlePadding": 10},
  "legend": {"orient": "top-right", "offset": 7, "strokeColor": "#cfcfd4", "fillColor": "#f3f3f8", "cornerRadius": 4, "padding": 6, "labelFont": "DejaVu Sans", "labelFontSize": 14.5, "labelColor": "#262626", "symbolType": "stroke", "symbolSize": 784, "symbolStrokeWidth": 2, "clipHeight": 16, "rowPadding": 4, "labelOffset": 12}
 }
}
